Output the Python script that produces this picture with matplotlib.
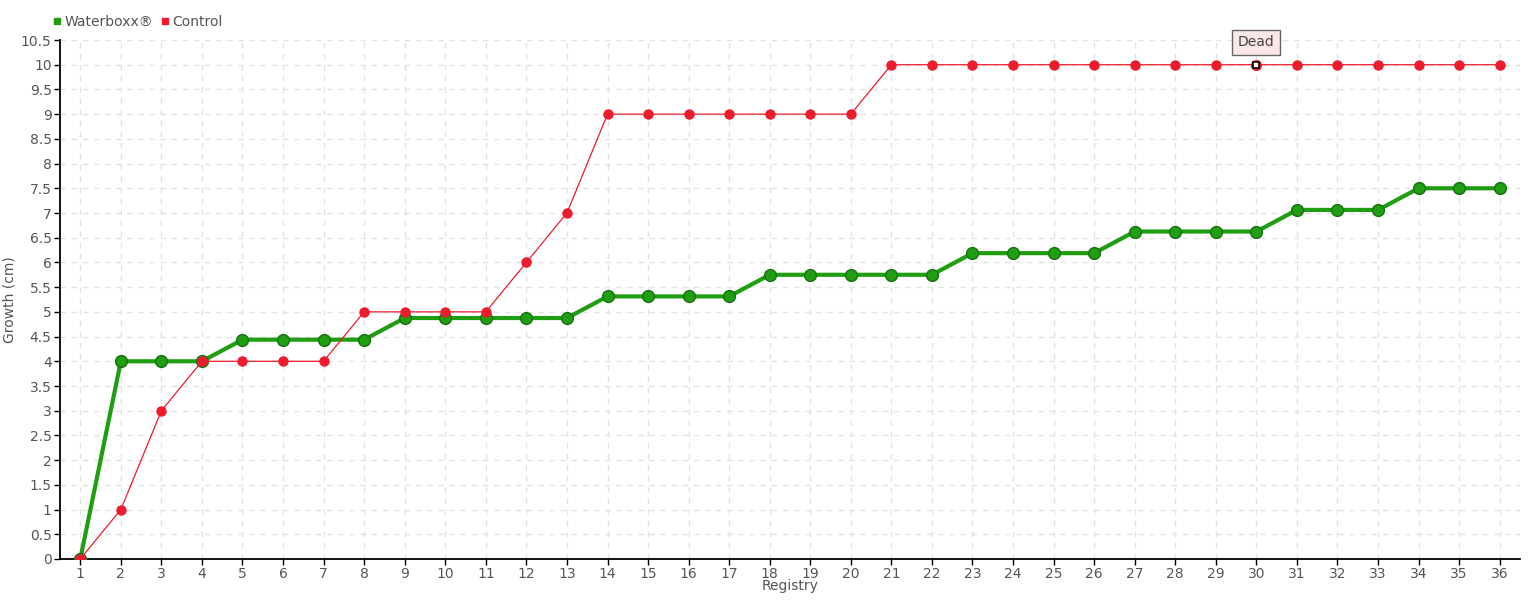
import numpy as np
import matplotlib.pyplot as plt
from matplotlib.lines import Line2D

registry = list(range(1, 37))
waterboxx = [0, 4, 4, 4, 4.4375, 4.4375, 4.4375, 4.4375, 4.875, 4.875, 4.875, 4.875, 4.875,
             5.3125, 5.3125, 5.3125, 5.3125, 5.75, 5.75, 5.75, 5.75, 5.75,
             6.1875, 6.1875, 6.1875, 6.1875, 6.625, 6.625, 6.625, 6.625,
             7.0625, 7.0625, 7.0625, 7.5, 7.5, 7.5]
control = [0, 1, 3, 4, 4, 4, 4, 5, 5, 5, 5, 6, 7, 9, 9, 9, 9, 9, 9, 9,
           10, 10, 10, 10, 10, 10, 10, 10, 10, 10, 10, 10, 10, 10, 10, 10]
dead_idx = 29  # registry 30
yticks = np.arange(0, 10.51, 0.5)
ytick_labels = ['%g' % v for v in yticks]

plt.rcParams['font.family'] = ['DejaVu Sans']
txt = '#555555'
green = '#1f9e12'
red = '#ec1c2c'

fig = plt.figure(figsize=(15.4, 6), dpi=100)
ax = fig.add_axes([60/1540, 41/600, 1460/1540, 519/600])

ax.plot(registry, waterboxx, color=green, lw=3, marker='o', ms=8.5,
        mfc=green, mec='#17700f', mew=1, zorder=3)
ctrl_x = [x for i, x in enumerate(registry) if i != dead_idx]
ctrl_y = [y for i, y in enumerate(control) if i != dead_idx]
ax.plot(registry, control, color=red, lw=0.9, zorder=4)
ax.plot(ctrl_x, ctrl_y, ls='none', marker='o', ms=6.5, mfc=red, mec=red,
        zorder=5)
ax.plot(registry[dead_idx], control[dead_idx], ls='none', marker='o', ms=7,
        mfc=red, mec=red, zorder=5)
ax.plot(registry[dead_idx], control[dead_idx], ls='none', marker='s', ms=4,
        mfc='white', mec='black', mew=1.2, zorder=6)

ax.annotate('Dead', (registry[dead_idx], control[dead_idx]), xytext=(0, 16),
            textcoords='offset points', ha='center', va='center', fontsize=10,
            color='#444444',
            bbox=dict(boxstyle='square,pad=0.4', fc='#fde6e6', ec='#666666', lw=1),
            zorder=7)

ax.set_xlim(0.5, 36.5)
ax.set_ylim(0, 10.5)
ax.set_xticks(registry)
ax.set_yticks(yticks)
ax.set_yticklabels(ytick_labels)
ax.tick_params(colors=txt, labelsize=10, length=4, width=1, pad=2)
ax.tick_params(axis='both', color='black')
ax.grid(True, color='#e3e3e3', ls=(0, (4, 4)), lw=1)
for s in ['top', 'right']:
    ax.spines[s].set_visible(False)
ax.spines['left'].set_linewidth(1.3)
ax.spines['bottom'].set_linewidth(1.3)

ax.set_xlabel('Registry', color=txt, fontsize=10, labelpad=-2)
ax.set_ylabel('Growth (cm)', color=txt, fontsize=10, labelpad=3)

handles = [Line2D([], [], ls='none', marker='s', ms=5, color=green),
           Line2D([], [], ls='none', marker='s', ms=5, color=red)]
leg = fig.legend(handles, ['Waterboxx®', 'Control'], loc='center left',
                 bbox_to_anchor=(46/1540, 1 - 22/600), ncol=2, frameon=False,
                 fontsize=10, handlelength=0.6, handletextpad=0.2,
                 columnspacing=0.6, borderpad=0)
for t in leg.get_texts():
    t.set_color(txt)

fig.savefig('out.png', dpi=100)
